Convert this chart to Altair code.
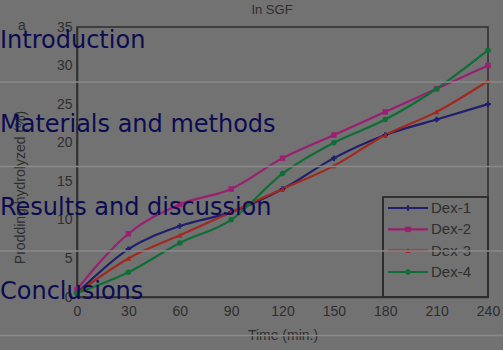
import altair as alt
import pandas as pd

# Sampling times (min)
times = [0, 30, 60, 90, 120, 150, 180, 210, 240]

# Percentage hydrolyzed for each dextrin sample in SGF
dex1 = [0.5, 6.2, 9.2, 11.0, 14.0, 18.0, 21.0, 23.0, 25.0]
dex2 = [1.0, 8.2, 12.0, 14.0, 18.0, 21.0, 24.0, 27.0, 30.0]
dex3 = [0.5, 5.0, 8.0, 11.0, 14.0, 17.0, 21.0, 24.0, 28.0]
dex4 = [0.5, 3.2, 7.0, 10.0, 16.0, 20.0, 23.0, 27.0, 32.0]

series_names = ["Dex-1", "Dex-2", "Dex-3", "Dex-4"]
series_colors = ["#1f1f6b", "#9a1f72", "#a3281f", "#0f6e36"]
series_shapes = ["cross", "square", "triangle-up", "circle"]

x_ticks = [0, 30, 60, 90, 120, 150, 180, 210, 240]
y_ticks = [0, 5, 10, 15, 20, 25, 30, 35]

# Section headings laid over the figure
sections = ["Introduction", "Materials and methods", "Results and discussion", "Conclusions"]

rows = []
for name, vals in zip(series_names, [dex1, dex2, dex3, dex4]):
    for t, v in zip(times, vals):
        rows.append({"time": t, "value": v, "series": name})
df = pd.DataFrame(rows)
legend_df = pd.DataFrame({"series": series_names})

FONT = "Liberation Sans"
AXIS_COL = "#2e2e2e"

color_scale = alt.Scale(domain=series_names, range=series_colors)
shape_scale = alt.Scale(domain=series_names, range=series_shapes)

x_enc = alt.X(
    "time:Q",
    scale=alt.Scale(domain=[0, 240], nice=False),
    axis=alt.Axis(values=x_ticks, title="Time (min.)", grid=False, ticks=False,
                  labelPadding=7, titlePadding=10, labelFontSize=14, titleFontSize=14,
                  labelFont=FONT, titleFont=FONT, labelColor=AXIS_COL, titleColor=AXIS_COL,
                  titleFontWeight="normal", domainColor=AXIS_COL, domainWidth=1.5,
                  labelFlush=False, labelOverlap=False),
)
y_enc = alt.Y(
    "value:Q",
    scale=alt.Scale(domain=[0, 35], nice=False),
    axis=alt.Axis(values=y_ticks, title="Prodding hydrolyzed (%)", grid=False, ticks=False,
                  labelPadding=5, labelFontSize=14, titleFontSize=14,
                  labelFont=FONT, titleFont=FONT, labelColor=AXIS_COL, titleColor=AXIS_COL,
                  titleFontWeight="normal", domainColor=AXIS_COL, domainWidth=1.5,
                  titleX=-50, titleY=160, labelFlush=False, labelOverlap=False),
)

base = alt.Chart(df)
lines = base.mark_line(strokeWidth=2.2, interpolate="monotone").encode(
    x=x_enc, y=y_enc,
    color=alt.Color("series:N", scale=color_scale, legend=None),
    detail="series:N",
)
points = base.mark_point(filled=True, size=30, opacity=1).encode(
    x=x_enc, y=y_enc,
    color=alt.Color("series:N", scale=color_scale, legend=None),
    shape=alt.Shape("series:N", scale=shape_scale, legend=None),
)
data_layer = alt.layer(lines, points)

# Legend box drawn by hand so each entry shows a line with its marker
leg_y = alt.Y("series:N", scale=alt.Scale(type="point", domain=series_names,
                                          range=[181, 245], padding=0), axis=None)
leg_color = alt.Color("series:N", scale=color_scale, legend=None)
leg = alt.Chart(legend_df)
leg_box = alt.Chart(legend_df).mark_rect(fill=None, stroke=AXIS_COL, strokeWidth=1.2).encode(
    x=alt.value(306), x2=alt.value(411), y=alt.value(170), y2=alt.value(270)
)
leg_lines = leg.mark_rule(strokeWidth=2.2).encode(
    x=alt.value(311), x2=alt.value(351), y=leg_y, color=leg_color
)
leg_pts = leg.mark_point(filled=True, size=30, opacity=1).encode(
    x=alt.value(331), y=leg_y, color=leg_color,
    shape=alt.Shape("series:N", scale=shape_scale, legend=None),
)
leg_text = leg.mark_text(align="left", baseline="middle", fontSize=15, font=FONT,
                         color=AXIS_COL).encode(
    x=alt.value(354), y=leg_y, text="series:N"
)
legend_layer = alt.layer(leg_box, leg_lines, leg_pts, leg_text)

# Panel letter and title
panel_letter = alt.Chart(legend_df.head(1)).mark_text(
    text="a", fontSize=14, font=FONT, color=AXIS_COL, align="center", baseline="middle"
).encode(x=alt.value(-55), y=alt.value(-1))
chart_title = alt.Chart(legend_df.head(1)).mark_text(
    text="In SGF", fontSize=13, font=FONT, color=AXIS_COL, align="center", baseline="middle"
).encode(x=alt.value(195), y=alt.value(-17))

# Section headings and separators on top
sec_layers = []
for i, s in enumerate(sections):
    sec_layers.append(
        alt.Chart(legend_df.head(1)).mark_text(
            text=s, fontSize=24, font="DejaVu Sans", color="#0b0b52",
            align="left", baseline="alphabetic"
        ).encode(x=alt.value(-77), y=alt.value(21 + 83.5 * i))
    )
    sec_layers.append(
        alt.Chart(legend_df.head(1)).mark_rule(color="#8a8a8a", strokeWidth=1.5).encode(
            x=alt.value(-77), x2=alt.value(426), y=alt.value(55 + 84.5 * i)
        )
    )

chart = alt.layer(
    data_layer, legend_layer, panel_letter, chart_title, *sec_layers
).resolve_scale(
    y="independent", color="shared", shape="shared"
).properties(
    width=411, height=270,
    padding={"left": 77, "top": 27, "right": 15, "bottom": 53},
    autosize=alt.AutoSizeParams(type="none"),
    background="#727272",
).configure_view(
    stroke=AXIS_COL, strokeWidth=1.5
).configure_axis(
    labelOverlap=False
)

chart.save("out.html", embed_options={"renderer": "svg", "actions": False})
